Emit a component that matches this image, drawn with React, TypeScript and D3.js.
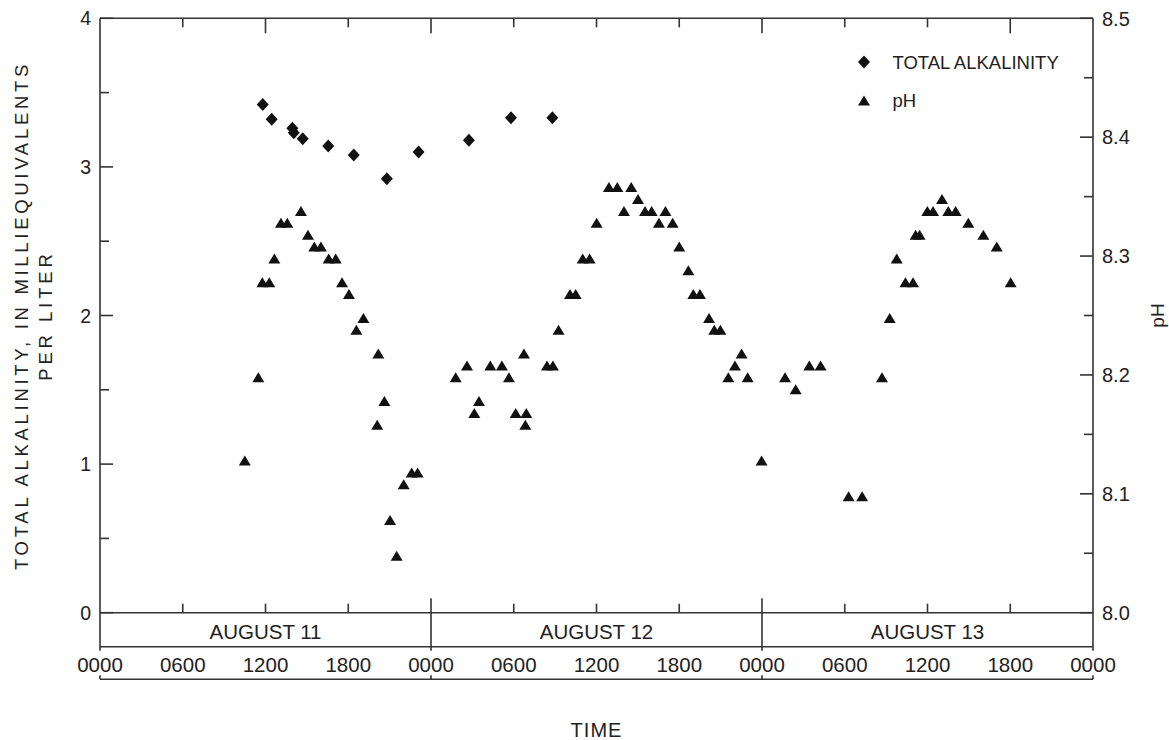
import React, { useEffect, useRef } from "react";
import * as d3 from "d3";

// hours counted from 0000 on August 11
const alkHours = [11.8, 12.45, 13.95, 14.05, 14.7, 16.55, 18.4, 20.8, 23.1, 26.75, 29.8, 32.8];
const alkValues = [3.42, 3.32, 3.26, 3.23, 3.19, 3.14, 3.08, 2.92, 3.1, 3.18, 3.33, 3.33];

const phHours = [
  10.5, 11.48, 11.77, 12.27, 12.64, 13.12, 13.58, 14.57, 15.08, 15.54, 16.02, 16.58, 17.09,
  17.55, 18.05, 18.59, 19.1, 20.18, 20.1, 20.62, 21.03, 21.51, 22.02, 22.6, 23.03,
  25.79, 26.61, 27.14, 27.48, 28.3, 29.14, 29.65, 30.14, 30.74, 30.84, 30.91, 32.41, 32.84,
  33.25, 34.08, 34.49, 35.0, 35.5, 36.01, 36.9, 37.51, 37.99, 38.52, 39.01, 39.52, 40.0,
  40.53, 41.0, 41.52, 42.0, 42.66, 43.02, 43.5, 44.16, 44.54, 44.98, 45.56, 46.04, 46.52, 46.96,
  47.97, 49.67, 50.44, 51.43, 52.25, 54.28, 55.26, 56.7, 57.26, 57.77, 58.4, 58.95, 59.14,
  59.43, 59.99, 60.4, 61.05, 61.51, 62.04, 62.96, 64.05, 65.02, 66.03,
];
const phValues = [
  8.128, 8.198, 8.278, 8.278, 8.298, 8.328, 8.328, 8.338, 8.318, 8.308, 8.308, 8.298, 8.298,
  8.278, 8.268, 8.238, 8.248, 8.218, 8.158, 8.178, 8.078, 8.048, 8.108, 8.118, 8.118,
  8.198, 8.208, 8.168, 8.178, 8.208, 8.208, 8.198, 8.168, 8.218, 8.158, 8.168, 8.208, 8.208,
  8.238, 8.268, 8.268, 8.298, 8.298, 8.328, 8.358, 8.358, 8.338, 8.358, 8.348, 8.338, 8.338,
  8.328, 8.338, 8.328, 8.308, 8.288, 8.268, 8.268, 8.248, 8.238, 8.238, 8.198, 8.208, 8.218, 8.198,
  8.128, 8.198, 8.188, 8.208, 8.208, 8.098, 8.098, 8.198, 8.248, 8.298, 8.278, 8.278, 8.318,
  8.318, 8.338, 8.338, 8.348, 8.338, 8.338, 8.328, 8.318, 8.308, 8.278,
];

const dayLabels = ["AUGUST 11", "AUGUST 12", "AUGUST 13"];
const hourLabels = ["0000", "0600", "1200", "1800"];
const alkTicks = [0, 1, 2, 3, 4];
const phTicks = [8.0, 8.1, 8.2, 8.3, 8.4, 8.5];
const legendLabels = ["TOTAL ALKALINITY", "pH"];

const FONT = "'Liberation Sans', Arial, Helvetica, sans-serif";
const INK = "#333";
const MARK = "#111";

const diamond = "M0,-6.5L6,0L0,6.5L-6,0Z";
const triangle = "M0,-5L6,5L-6,5Z";

export default function App() {
  const ref = useRef<SVGSVGElement>(null);

  useEffect(() => {
    const svg = d3.select(ref.current);
    svg.selectAll("*").remove();

    const left = 100, right = 1093, top = 18.3, bottom = 612.7;
    const bandBottom = 646.7, bracketY = 679.3;

    const x = d3.scaleLinear().domain([0, 72]).range([left, right]);
    const yA = d3.scaleLinear().domain([0, 4]).range([bottom, top]);
    const yP = d3.scaleLinear().domain([8, 8.5]).range([bottom, top]);

    const g = svg.append("g").attr("stroke", INK).attr("stroke-width", 1.6).attr("fill", "none");
    const line = (x1: number, y1: number, x2: number, y2: number) =>
      g.append("line").attr("x1", x1).attr("y1", y1).attr("x2", x2).attr("y2", y2);

    // frame
    line(left, top, right, top);
    line(left, top, left, bandBottom + 4);
    line(right, top, right, bandBottom + 4);
    line(left, bottom, right, bottom);
    line(left, bandBottom, right, bandBottom);
    line(left, bracketY, right, bracketY);

    // left ticks
    d3.range(0, 4.01, 0.5).forEach((v) => {
      const len = Number.isInteger(v) ? 13 : 9;
      line(left, yA(v), left + len, yA(v));
    });
    // right ticks
    d3.range(8, 8.501, 0.05).forEach((v, i) => {
      const len = i % 2 === 0 ? 13 : 9;
      line(right, yP(v), right - len, yP(v));
    });

    // top ticks
    const longTop = [12, 24, 48, 66];
    d3.range(6, 72, 6).forEach((h) => {
      line(x(h), top, x(h), top + (longTop.includes(h) ? 15 : 9));
    });
    // bottom ticks and day separators
    d3.range(6, 72, 6).forEach((h) => {
      if (h % 24 === 0) line(x(h), bottom - 14.5, x(h), bandBottom + 4);
      else line(x(h), bottom, x(h), bottom - 9);
    });
    // bracket end ticks
    d3.range(0, 73, 24).forEach((h) => {
      line(x(h), bracketY, x(h), bracketY - 4);
    });

    const text = svg.append("g").attr("font-family", FONT).attr("fill", "#222");

    // left tick labels
    text.selectAll(".la").data(alkTicks).enter().append("text")
      .attr("x", 91).attr("y", (d) => yA(d)).attr("dy", "0.36em")
      .attr("text-anchor", "end").attr("font-size", 19.5).text((d) => d);
    // right tick labels
    text.selectAll(".lp").data(phTicks).enter().append("text")
      .attr("x", 1102).attr("y", (d) => yP(d)).attr("dy", "0.36em")
      .attr("font-size", 20).text((d) => d3.format(".1f")(d));

    // day labels
    text.selectAll(".day").data(dayLabels).enter().append("text")
      .attr("x", (d, i) => x(i * 24 + 12)).attr("y", 638.5)
      .attr("text-anchor", "middle").attr("font-size", 20.5).text((d) => d);
    // hour labels
    text.selectAll(".hr").data(d3.range(0, 73, 6)).enter().append("text")
      .attr("x", (d) => x(d)).attr("y", 671.5)
      .attr("text-anchor", "middle").attr("font-size", 20.5)
      .text((d) => hourLabels[(d / 6) % 4]);

    text.append("text").attr("x", (left + right) / 2).attr("y", 736.5)
      .attr("text-anchor", "middle").attr("font-size", 20).attr("letter-spacing", 1).text("TIME");

    // axis titles
    const midY = (top + bottom) / 2;
    text.append("text").attr("transform", `translate(28.3,${midY}) rotate(-90)`)
      .attr("text-anchor", "middle").attr("font-size", 18.5).attr("letter-spacing", 3.7)
      .text("TOTAL ALKALINITY, IN MILLIEQUIVALENTS");
    text.append("text").attr("transform", `translate(51.7,${midY}) rotate(-90)`)
      .attr("text-anchor", "middle").attr("font-size", 18.5).attr("letter-spacing", 3.9)
      .text("PER LITER");
    text.append("text").attr("transform", `translate(1163.5,${midY}) rotate(-90)`)
      .attr("text-anchor", "middle").attr("font-size", 19).text("pH");

    // data
    const pts = svg.append("g").attr("fill", MARK);
    pts.selectAll(".ph").data(phHours).enter().append("path")
      .attr("d", triangle)
      .attr("transform", (d, i) => `translate(${x(d)},${yP(phValues[i])})`);
    pts.selectAll(".alk").data(alkHours).enter().append("path")
      .attr("d", diamond)
      .attr("transform", (d, i) => `translate(${x(d)},${yA(alkValues[i])})`);

    // legend
    const lg = svg.append("g").attr("transform", "translate(864,62)");
    legendLabels.forEach((lab, i) => {
      lg.append("path").attr("d", i === 0 ? diamond : triangle)
        .attr("fill", MARK).attr("transform", `translate(0,${i * 38.5})`);
      lg.append("text").attr("x", 28.5).attr("y", i * 38.5).attr("dy", "0.36em")
        .attr("font-family", FONT).attr("font-size", 18.5).attr("fill", "#222").text(lab);
    });
  }, []);

  return (
    <svg
      ref={ref}
      width={1169}
      height={740}
      style={{ position: "absolute", left: 0, top: 0, background: "#fff" }}
    />
  );
}
